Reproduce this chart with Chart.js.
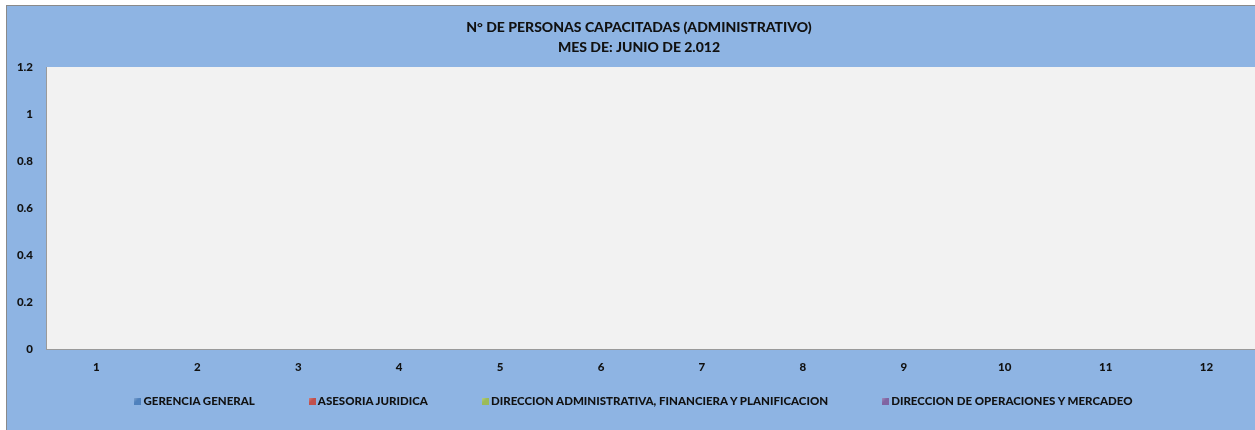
<!DOCTYPE html>
<html>
<head>
<meta charset="utf-8">
<script src="https://cdn.jsdelivr.net/npm/chart.js@4.4.1/dist/chart.umd.min.js"></script>
<style>
  html, body { margin: 0; padding: 0; width: 1255px; height: 430px; overflow: hidden; background: #ffffff; }
  #frame { position: absolute; left: 6px; top: 5px; width: 1270px; height: 440px; background: #8EB4E3;
           border-left: 1px solid #8a8a8a; border-top: 1px solid #8a8a8a; }
  #c { position: absolute; left: 0; top: 0; }
  #legend { position: absolute; left: 0; top: 388px; width: 1253px; display: flex; justify-content: center;
            gap: 54px; font-family: Lato, sans-serif; font-weight: 900; font-size: 11.5px; line-height: 14px; color: #111; }
  .item { display: flex; align-items: center; white-space: nowrap; }
  .box { width: 7px; height: 7px; margin-right: 2px; margin-top: 1px; }
</style>
</head>
<body>
<div id="frame">
  <canvas id="c" width="1264" height="424"></canvas>
  <div id="legend"></div>
</div>
<script>
const titleLines = ['N° DE PERSONAS CAPACITADAS (ADMINISTRATIVO)', 'MES DE: JUNIO DE 2.012'];
const categories = ['1','2','3','4','5','6','7','8','9','10','11','12'];
const seriesNames = ['GERENCIA GENERAL', 'ASESORIA JURIDICA', 'DIRECCION ADMINISTRATIVA, FINANCIERA Y PLANIFICACION', 'DIRECCION DE OPERACIONES Y MERCADEO'];
const gerenciaGeneral = [0,0,0,0,0,0,0,0,0,0,0,0];
const asesoriaJuridica = [0,0,0,0,0,0,0,0,0,0,0,0];
const direccionAdministrativa = [0,0,0,0,0,0,0,0,0,0,0,0];
const direccionOperaciones = [0,0,0,0,0,0,0,0,0,0,0,0];
const yTickLabels = ['0','0.2','0.4','0.6','0.8','1','1.2'];
const yMin = 0, yMax = 1.2, yStep = 0.2;

const colors = ['#4F81BD', '#C0504D', '#9BBB59', '#8064A2'];
const seriesData = [gerenciaGeneral, asesoriaJuridica, direccionAdministrativa, direccionOperaciones];

const plotBg = {
  id: 'plotBg',
  beforeDraw(chart) {
    const {ctx, chartArea: a} = chart;
    ctx.save();
    ctx.fillStyle = '#F2F2F2';
    ctx.fillRect(a.left, a.top, a.right - a.left, a.bottom - a.top);
    ctx.restore();
  }
};

// centre the title over the whole frame width rather than the padded layout box
const titleShift = {
  id: 'titleShift',
  afterLayout(chart) {
    if (chart.titleBlock) { chart.titleBlock.left += 14; }
  }
};

const tickFont = { family: 'Lato, sans-serif', weight: '900', size: 11.5 };

new Chart(document.getElementById('c'), {
  type: 'bar',
  data: {
    labels: categories,
    datasets: seriesNames.map((n, i) => ({
      label: n, data: seriesData[i], backgroundColor: colors[i], borderWidth: 0
    }))
  },
  options: {
    responsive: false,
    animation: false,
    layout: { padding: { left: 0, right: 14, top: 0, bottom: 57 } },
    plugins: {
      legend: { display: false },
      tooltip: { enabled: false },
      title: {
        display: true,
        text: titleLines,
        color: '#111',
        font: { family: 'Lato, sans-serif', weight: '900', size: 14, lineHeight: 20/14 },
        padding: { top: 11, bottom: 10 }
      }
    },
    scales: {
      x: {
        grid: { display: true, drawOnChartArea: false, drawTicks: false },
        border: { display: true, color: '#9a9a9a', width: 1 },
        ticks: { color: '#111', font: tickFont, padding: 11, maxRotation: 0 },
        afterFit(s) { s.height = 24; }
      },
      y: {
        min: yMin, max: yMax,
        grid: { display: true, drawOnChartArea: false, drawTicks: false },
        border: { display: true, color: '#9a9a9a', width: 1 },
        ticks: {
          stepSize: yStep, color: '#111', font: tickFont, padding: 13,
          callback: (v, i) => yTickLabels[i]
        },
        afterFit(s) { s.width = 39; }
      }
    }
  },
  plugins: [plotBg, titleShift]
});

const legend = document.getElementById('legend');
seriesNames.forEach((n, i) => {
  const it = document.createElement('div');
  it.className = 'item';
  const b = document.createElement('span');
  b.className = 'box';
  b.style.background = `linear-gradient(135deg, #ffffff44 0%, ${colors[i]} 40%, ${colors[i]} 100%)`;
  b.style.backgroundColor = colors[i];
  const t = document.createElement('span');
  t.textContent = n;
  it.appendChild(b); it.appendChild(t);
  legend.appendChild(it);
});
</script>
</body>
</html>
